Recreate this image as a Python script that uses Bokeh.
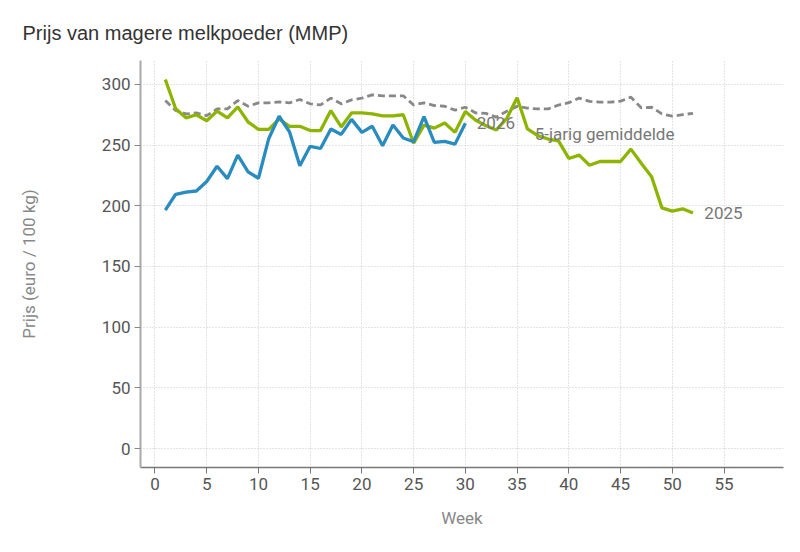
from bokeh.plotting import figure
from bokeh.models import Range1d, FixedTicker, ColumnDataSource, Label
from bokeh.embed import file_html
from bokeh.resources import INLINE

weeks_2025 = list(range(1, 53))
prijs_2025 = [304, 280, 272.5, 275, 270, 278, 272.5, 281.5, 269, 263,
              263, 271.5, 265.5, 265.5, 262, 262, 278.5, 265, 276.5, 276.5,
              275.7, 274, 274, 275, 251.5, 266.5, 264, 268.2, 260.5, 277.6,
              270.5, 266, 262.5, 272, 289, 263.3, 257.8, 255, 253.5, 239,
              241.7, 233.4, 236.5, 236.5, 236.5, 246.7, 235, 224, 198.3, 195.6,
              197.5, 194]

weeks_2026 = list(range(1, 31))
prijs_2026 = [196.5, 209.5, 211.3, 212.2, 220, 232.6, 222.4, 241.7, 228, 222.7,
              255.5, 273.8, 261, 233, 249, 247.2, 263.3, 258.8, 271.2, 260.5,
              265.5, 249.4, 266.6, 255.8, 252.8, 273.5, 252.2, 253, 250.8, 268]

weeks_gem = list(range(1, 53))
prijs_gem = [286.7, 278.5, 275.7, 276.5, 274.3, 279.8, 279.8, 286.7, 282, 284.8,
             284.8, 285.6, 284.8, 287.6, 284, 283.1, 288.7, 284, 287.3, 288.7,
             291.4, 290.6, 290.6, 290.6, 283.1, 284.8, 282.6, 282, 278.8, 281.2,
             276.5, 276.1, 273, 277.9, 281.9, 280.5, 279.8, 279.8, 283, 285,
             288.7, 286, 285.4, 285.4, 286.2, 289.5, 280.7, 281.2, 275.7, 273.8,
             275.1, 276.2]

x_ticks = [0, 5, 10, 15, 20, 25, 30, 35, 40, 45, 50, 55]
y_ticks = [0, 50, 100, 150, 200, 250, 300]

label_gem_week = 36.7
label_gem_value = 259.5

GREEN = "#8cb400"
BLUE = "#2a8bbf"
GREY = "#888888"

p = figure(width=792, height=544, output_backend="svg", toolbar_location=None,
           x_range=Range1d(-1.4, 60.75), y_range=Range1d(-15.6, 319.7),
           min_border_left=140, min_border_right=9, min_border_bottom=77,
           min_border_top=60)
p.outline_line_color = None

p.title.text = "Prijs van magere melkpoeder (MMP)"
p.title.text_font = "Liberation Sans"
p.title.text_font_size = "20px"
p.title.text_font_style = "normal"
p.title.text_color = "#333333"
p.title.text_line_height = 0.6
p.title.align = "left"
p.title.offset = -118
p.title.standoff = 33

src25 = ColumnDataSource(dict(x=weeks_2025, y=prijs_2025))
src26 = ColumnDataSource(dict(x=weeks_2026, y=prijs_2026))
srcg = ColumnDataSource(dict(x=weeks_gem, y=prijs_gem))

p.line("x", "y", source=srcg, line_color=GREY, line_width=2.8, line_dash="7 4")
p.line("x", "y", source=src25, line_color=GREEN, line_width=3.3)
p.line("x", "y", source=src26, line_color=BLUE, line_width=3.3)

lab_style = dict(text_font="Roboto", text_font_size="17px", text_color="#777777",
                 text_baseline="middle", text_align="left")
p.add_layout(Label(x=weeks_2026[-1] + 1.1, y=prijs_2026[-1], text="2026", **lab_style))
p.add_layout(Label(x=weeks_2025[-1] + 1.1, y=prijs_2025[-1], text="2025", **lab_style))
p.add_layout(Label(x=label_gem_week, y=label_gem_value, text="5-jarig gemiddelde", **lab_style))

p.xaxis.ticker = FixedTicker(ticks=x_ticks)
p.yaxis.ticker = FixedTicker(ticks=y_ticks)
p.xgrid.ticker = FixedTicker(ticks=x_ticks)
p.ygrid.ticker = FixedTicker(ticks=y_ticks)

for g in (p.xgrid, p.ygrid):
    g.grid_line_color = "#c8c8c8"
    g.grid_line_dash = "1 2"
    g.grid_line_width = 1

p.xaxis.axis_label = "Week"
p.yaxis.axis_label = "Prijs (euro / 100 kg)"
for ax in (p.xaxis, p.yaxis):
    ax.axis_label_text_font = "Roboto"
    ax.axis_label_text_font_size = "17px"
    ax.axis_label_text_font_style = "normal"
    ax.axis_label_text_color = "#888888"
    ax.major_label_text_font = "Roboto"
    ax.major_label_text_font_size = "17px"
    ax.major_label_text_color = "#555555"
    ax.minor_tick_line_color = None
    ax.major_tick_out = 6
    ax.major_tick_in = 0
    ax.major_label_standoff = 4

p.yaxis.axis_line_color = "#aaaaaa"
p.yaxis.axis_line_width = 2
p.yaxis.major_tick_line_color = "#888888"
p.yaxis.axis_label_standoff = 60
p.xaxis.axis_line_color = "#777777"
p.xaxis.axis_line_width = 1.5
p.xaxis.major_tick_line_color = "#777777"
p.xaxis.axis_label_standoff = 15

open("out.html", "w").write(file_html(p, INLINE))
